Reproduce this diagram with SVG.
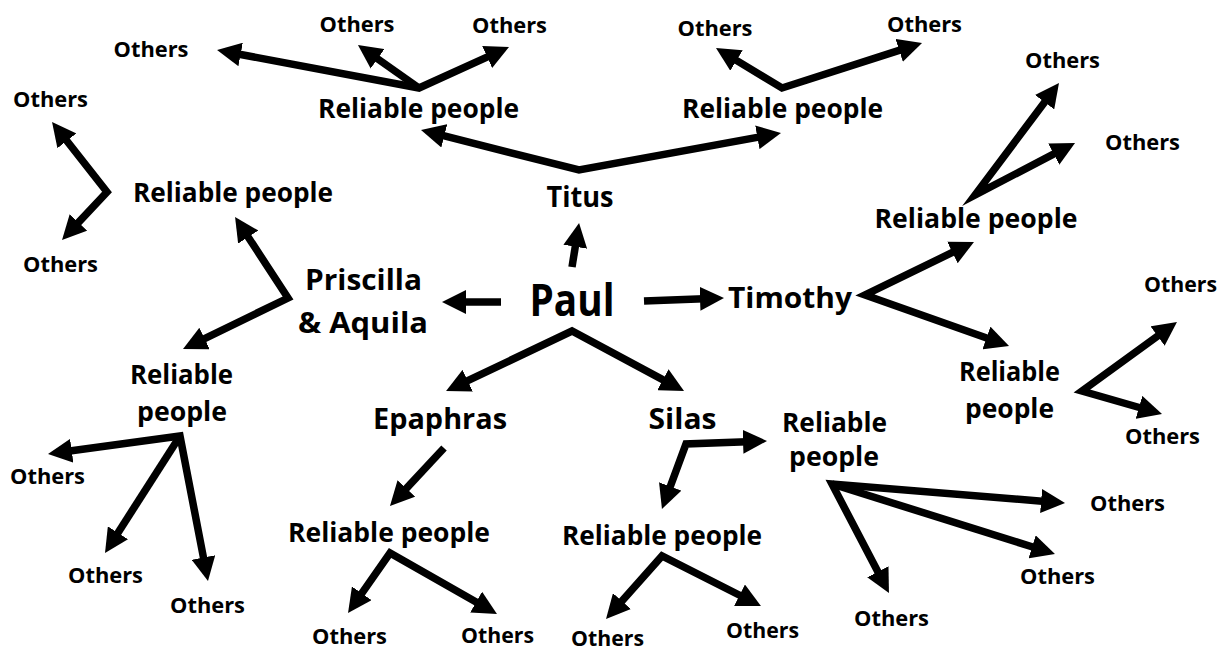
<svg xmlns="http://www.w3.org/2000/svg" width="1226" height="652" viewBox="0 0 1226 652">
<defs>
<style>
text{font-family:"Open Sans","Liberation Sans",sans-serif;font-weight:700;fill:#000;text-anchor:middle}
.o{font-size:22px}
.r{font-size:26px}
.m{font-size:29px}
.p{font-size:45px}
.c path{fill:none;stroke:#000;stroke-width:7.5;stroke-linejoin:miter;stroke-miterlimit:6}
.c path.e{marker-end:url(#ah)}
.c path.v{marker-start:url(#ah);marker-end:url(#ah)}
</style>
<marker id="ah" viewBox="0 0 24 24" refX="4" refY="12" markerWidth="24" markerHeight="24" markerUnits="userSpaceOnUse" orient="auto-start-reverse">
<path d="M0,0 L24,12 L0,24 Z" fill="#000"/>
</marker>
</defs>
<rect width="1226" height="652" fill="#fff"/>
<g id="connectors" class="c">
<path class="e" d="M572,267 L575.9,242.8"/>
<path class="e" d="M501,302 L462,302"/>
<path class="e" d="M644,301 L704,298.7"/>
<path class="v" d="M464.1,382.4 L572,331 L666.4,381.6"/>
<path class="v" d="M440.4,134.9 L579,170 L761.3,136.6"/>
<path class="v" d="M236.7,53.7 L419,88 L490.8,55.3"/>
<path class="e" d="M419,88 L374.3,56.5"/>
<path class="v" d="M733.1,58.4 L782,88 L903,49.1"/>
<path class="v" d="M64.4,137.7 L107,192 L75.7,225.4"/>
<path class="v" d="M246,233.7 L288,298 L201,340.3"/>
<path class="v" d="M956,250.7 L865,295 L990.2,339.3"/>
<path class="v" d="M1047,99 L975,195 L1057.3,152.2"/>
<path class="v" d="M1160.8,333.8 L1082,391 L1142.8,408.5"/>
<path class="v" d="M67.8,451.3 L180,436 L204.2,561.4"/>
<path class="e" d="M180,436 L115.8,536.2"/>
<path class="e" d="M444,448 L403.6,491.4"/>
<path class="v" d="M359.5,596.6 L390,553 L479.6,604.1"/>
<path class="v" d="M747,441.7 L686,444 L668.9,490.2"/>
<path class="v" d="M619.3,604.1 L662,556 L743.1,597"/>
<path class="v" d="M1045.1,501.4 L832,484 L879.7,575.3"/>
<path class="e" d="M832,484 L1035.9,548"/>
</g>
<g id="paul"><text class="p" x="572" y="316" textLength="85" lengthAdjust="spacingAndGlyphs">Paul</text></g>
<g id="titus"><text class="m" x="580" y="207" textLength="67" lengthAdjust="spacingAndGlyphs">Titus</text></g>
<g id="priscilla"><text class="m" x="363.5" y="290" textLength="117" lengthAdjust="spacingAndGlyphs">Priscilla</text><text class="m" x="363" y="333" textLength="130" lengthAdjust="spacingAndGlyphs">&amp; Aquila</text></g>
<g id="timothy"><text class="m" x="790" y="308" textLength="124" lengthAdjust="spacingAndGlyphs">Timothy</text></g>
<g id="epaphras"><text class="m" x="440" y="429" textLength="134" lengthAdjust="spacingAndGlyphs">Epaphras</text></g>
<g id="silas"><text class="m" x="682.5" y="429" textLength="68" lengthAdjust="spacingAndGlyphs">Silas</text></g>
<g id="rp-titus-left"><text class="r" x="418.5" y="118" textLength="201" lengthAdjust="spacingAndGlyphs">Reliable people</text></g>
<g id="rp-titus-right"><text class="r" x="782.5" y="118" textLength="201" lengthAdjust="spacingAndGlyphs">Reliable people</text></g>
<g id="rp-priscilla-top"><text class="r" x="233" y="202" textLength="200" lengthAdjust="spacingAndGlyphs">Reliable people</text></g>
<g id="rp-priscilla-bottom"><text class="r" x="181.5" y="384" textLength="103" lengthAdjust="spacingAndGlyphs">Reliable</text><text class="r" x="182" y="421" textLength="90" lengthAdjust="spacingAndGlyphs">people</text></g>
<g id="rp-timothy-top"><text class="r" x="976" y="228" textLength="203" lengthAdjust="spacingAndGlyphs">Reliable people</text></g>
<g id="rp-timothy-bottom"><text class="r" x="1009.5" y="381" textLength="101" lengthAdjust="spacingAndGlyphs">Reliable</text><text class="r" x="1009.5" y="418" textLength="89" lengthAdjust="spacingAndGlyphs">people</text></g>
<g id="rp-epaphras"><text class="r" x="389" y="542" textLength="202" lengthAdjust="spacingAndGlyphs">Reliable people</text></g>
<g id="rp-silas-bottom"><text class="r" x="662" y="545" textLength="200" lengthAdjust="spacingAndGlyphs">Reliable people</text></g>
<g id="rp-silas-right"><text class="r" x="834.5" y="432" textLength="105" lengthAdjust="spacingAndGlyphs">Reliable</text><text class="r" x="834" y="466" textLength="90" lengthAdjust="spacingAndGlyphs">people</text></g>
<g id="others-1"><text class="o" x="151" y="57" textLength="75" lengthAdjust="spacingAndGlyphs">Others</text></g>
<g id="others-2"><text class="o" x="357" y="32" textLength="75" lengthAdjust="spacingAndGlyphs">Others</text></g>
<g id="others-3"><text class="o" x="509.5" y="33" textLength="75" lengthAdjust="spacingAndGlyphs">Others</text></g>
<g id="others-4"><text class="o" x="715" y="36" textLength="75" lengthAdjust="spacingAndGlyphs">Others</text></g>
<g id="others-5"><text class="o" x="924.5" y="32" textLength="75" lengthAdjust="spacingAndGlyphs">Others</text></g>
<g id="others-6"><text class="o" x="1062.5" y="68" textLength="75" lengthAdjust="spacingAndGlyphs">Others</text></g>
<g id="others-7"><text class="o" x="1142.5" y="150" textLength="75" lengthAdjust="spacingAndGlyphs">Others</text></g>
<g id="others-8"><text class="o" x="50.5" y="107" textLength="75" lengthAdjust="spacingAndGlyphs">Others</text></g>
<g id="others-9"><text class="o" x="60.5" y="272" textLength="75" lengthAdjust="spacingAndGlyphs">Others</text></g>
<g id="others-10"><text class="o" x="1180.5" y="292" textLength="73" lengthAdjust="spacingAndGlyphs">Others</text></g>
<g id="others-11"><text class="o" x="1162.5" y="444" textLength="75" lengthAdjust="spacingAndGlyphs">Others</text></g>
<g id="others-12"><text class="o" x="47.5" y="484" textLength="75" lengthAdjust="spacingAndGlyphs">Others</text></g>
<g id="others-13"><text class="o" x="1127.5" y="511" textLength="75" lengthAdjust="spacingAndGlyphs">Others</text></g>
<g id="others-14"><text class="o" x="105.5" y="583" textLength="75" lengthAdjust="spacingAndGlyphs">Others</text></g>
<g id="others-15"><text class="o" x="1057.5" y="584" textLength="75" lengthAdjust="spacingAndGlyphs">Others</text></g>
<g id="others-16"><text class="o" x="207.5" y="613" textLength="75" lengthAdjust="spacingAndGlyphs">Others</text></g>
<g id="others-17"><text class="o" x="891.5" y="626" textLength="75" lengthAdjust="spacingAndGlyphs">Others</text></g>
<g id="others-18"><text class="o" x="762.5" y="638" textLength="73" lengthAdjust="spacingAndGlyphs">Others</text></g>
<g id="others-19"><text class="o" x="497.5" y="643" textLength="73" lengthAdjust="spacingAndGlyphs">Others</text></g>
<g id="others-20"><text class="o" x="349.5" y="644" textLength="75" lengthAdjust="spacingAndGlyphs">Others</text></g>
<g id="others-21"><text class="o" x="607.5" y="646" textLength="73" lengthAdjust="spacingAndGlyphs">Others</text></g>
</svg>
